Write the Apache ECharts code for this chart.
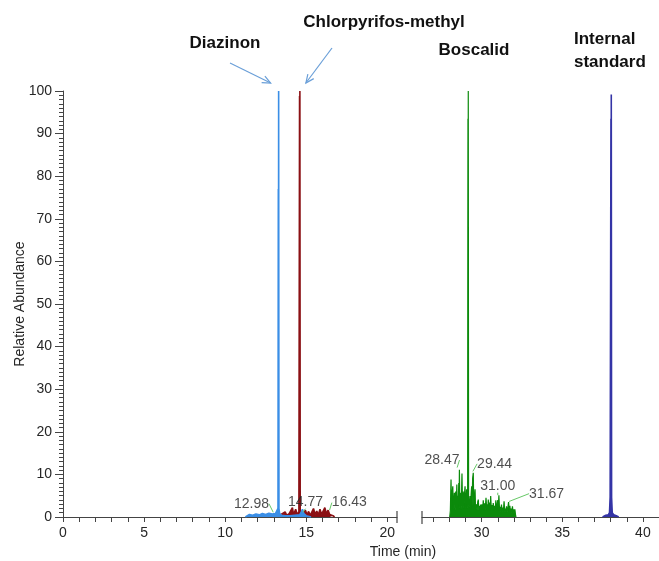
<!DOCTYPE html>
<html><head><meta charset="utf-8">
<script src="https://cdn.jsdelivr.net/npm/echarts@6/dist/echarts.min.js"></script>
<style>html,body{margin:0;padding:0;background:#fff}#c{width:659px;height:561px}</style>
</head><body><div id="c"></div>
<script>
// ---------- data ----------
const yTickLabels = [0,10,20,30,40,50,60,70,80,90,100];
const xLeftLabels = [0,5,10,15,20];
const xLeftTicks = [0,1,2,3,4,5,6,7,8,9,10,11,12,13,14,15,16,17,18,19,20];
const xRightLabels = [30,35,40];
const xRightTicks = [27,28,29,30,31,32,33,34,35,36,37,38,39,40];
const compoundNames = ['Diazinon','Chlorpyrifos-methyl','Boscalid','Internal\nstandard'];
const compoundRT = [13.30, 14.61, 29.17, 38.04];

const diazinon = [[11.25,0],[11.3,0.4],[11.5,0.6],[11.7,0.4],[11.9,0.7],[12.1,0.5],[12.3,0.8],[12.5,0.6],[12.7,0.9],[12.9,0.7],[12.98,1.0],[13.1,0.8],[13.2,1.2],[13.26,2],[13.28,77],[13.29,35],[13.30,100],[13.32,2],[13.36,0.8],[13.5,0.4],[13.7,0.3],[14.0,0.3],[14.3,0.4],[14.6,0.5],[14.7,1.2],[14.77,1.8],[14.85,0.8],[15.0,0.3],[15.3,0]];
const chlorpyrifos = [[12.8,0],[12.9,0.3],[13.0,0.4],[13.1,0.2],[13.2,0.5],[13.35,0.3],[13.5,0.7],[13.6,0.3],[13.7,1.2],[13.8,0.4],[13.95,0.8],[14.05,0.4],[14.15,2.2],[14.22,0.5],[14.35,1.8],[14.45,0.6],[14.55,1.2],[14.59,98.8],[14.60,60],[14.61,100],[14.63,1.2],[14.75,0.6],[14.85,1.1],[14.95,1.6],[15.05,0.5],[15.15,1.3],[15.25,0.4],[15.35,0.8],[15.45,2.0],[15.55,0.6],[15.65,1.4],[15.75,0.5],[15.85,1.8],[15.95,0.6],[16.05,1.0],[16.15,2.2],[16.25,0.7],[16.35,1.6],[16.45,0.6],[16.55,0.9],[16.65,0.3],[16.75,0]];
const boscalid = [[28.02,0],[28.06,1.5],[28.10,8.8],[28.13,2.0],[28.17,5.5],[28.21,7.2],[28.24,1.8],[28.28,4.0],[28.31,5.7],[28.35,1.6],[28.39,6.0],[28.43,2.2],[28.46,7.6],[28.49,2.0],[28.52,5.0],[28.55,3.0],[28.58,8.0],[28.60,2.4],[28.62,11.1],[28.65,2.0],[28.68,4.5],[28.70,5.7],[28.73,1.8],[28.76,6.5],[28.78,10.2],[28.81,2.6],[28.84,4.0],[28.86,6.0],[28.89,2.0],[28.93,5.0],[28.97,7.2],[29.00,2.2],[29.04,4.5],[29.07,6.5],[29.10,2.0],[29.13,3.0],[29.15,93.5],[29.16,40],[29.17,100],[29.19,3.0],[29.23,2.4],[29.28,4.9],[29.31,2.0],[29.35,5.5],[29.38,7.2],[29.41,2.5],[29.44,9.0],[29.48,10.4],[29.51,2.8],[29.55,4.5],[29.59,6.5],[29.62,2.0],[29.66,3.0],[29.69,3.3],[29.72,1.6],[29.76,3.6],[29.79,4.1],[29.83,1.5],[29.87,2.6],[29.91,1.4],[29.94,2.9],[29.98,1.5],[30.02,3.0],[30.06,1.6],[30.10,3.9],[30.14,1.8],[30.18,3.2],[30.22,1.5],[30.27,4.5],[30.31,1.8],[30.35,3.0],[30.38,1.6],[30.41,4.1],[30.45,1.8],[30.49,3.4],[30.52,1.5],[30.56,4.9],[30.60,1.7],[30.64,2.8],[30.68,1.5],[30.72,3.3],[30.76,1.6],[30.80,2.6],[30.84,1.4],[30.88,3.9],[30.92,1.5],[30.96,2.8],[31.00,4.0],[31.03,1.6],[31.07,5.1],[31.11,1.5],[31.15,2.4],[31.19,1.2],[31.23,2.9],[31.27,1.3],[31.31,2.2],[31.35,1.2],[31.39,3.7],[31.43,1.3],[31.47,2.0],[31.50,1.1],[31.54,2.5],[31.58,1.2],[31.62,2.0],[31.67,3.5],[31.71,1.2],[31.75,2.6],[31.79,1.1],[31.83,2.0],[31.87,1.0],[31.91,2.5],[31.95,1.0],[31.99,1.8],[32.03,0.8],[32.06,1.8],[32.10,0.5],[32.13,0]];
const internalStd = [[37.5,0],[37.55,0.3],[37.7,0.4],[37.85,0.5],[37.93,1.0],[37.97,4.7],[38.02,93.5],[38.03,40],[38.04,99.2],[38.06,4.5],[38.1,1.0],[38.2,0.5],[38.35,0.3],[38.5,0]];

const peakLabelRT = [12.98, 14.77, 16.43, 28.47, 29.44, 31.00, 31.67];
const peakLabelHeight = [1.0, 1.0, 1.5, 11.5, 10.6, 5.0, 3.6];

// ---------- layout / style ----------
const labelOffsets = [[-22,-9],[3,-11],[20,-8],[-15,-8],[22,-8],[0,-10],[38,-8]];
const FONT = '"Liberation Sans", Arial, sans-serif';
const TXT = '#262626';
const AX = '#444';

const leftIdx = [], rightIdx = [];
peakLabelRT.forEach((t,i)=> (t < 25 ? leftIdx : rightIdx).push(i));
const labelData = idx => idx.map(i => ({value:[peakLabelRT[i], peakLabelHeight[i]], idx:i}));

function labelSeries(axisIdx, idx) {
  return {
    type:'scatter', xAxisIndex:axisIdx, yAxisIndex:axisIdx, z:10,
    symbol:'circle', symbolSize:1, itemStyle:{color:'rgba(0,0,0,0)'},
    silent:true,
    data: labelData(idx),
    label:{show:true, position:'inside', formatter: p => peakLabelRT[p.data.idx].toFixed(2),
      fontFamily:FONT, fontSize:14, color:'#222'},
    labelLine:{show:true, lineStyle:{color:'#66c866', width:1}},
    labelLayout: p => { const d = labelData(idx)[p.dataIndex]; const o = labelOffsets[d.idx]; return {dx:o[0], dy:o[1]}; }
  };
}

function lineSeries(name, data, axisIdx, color, z, w) {
  return {type:'line', name, data, xAxisIndex:axisIdx, yAxisIndex:axisIdx, symbol:'none', z,
    lineStyle:{color, width:w}, areaStyle:{color, opacity:1}, silent:true};
}

const xAxisCommon = {
  type:'value', splitLine:{show:false},
  axisLine:{show:true, onZero:false, lineStyle:{color:AX, width:1}},
  axisTick:{show:true, length:5, lineStyle:{color:AX}},
  axisLabel:{fontFamily:FONT, fontSize:14, color:TXT, margin:9}
};

const chart = echarts.init(document.getElementById('c'), null, {renderer:'canvas'});
chart.setOption({
  animation:false,
  backgroundColor:'#fff',
  grid:[
    {left:63, top:91, width:334, height:426},
    {left:422, top:91, width:237.5, height:426}
  ],
  xAxis:[
    Object.assign({}, xAxisCommon, {gridIndex:0, min:0, max:20.6,
      axisTick:Object.assign({}, xAxisCommon.axisTick, {customValues:xLeftTicks}),
      axisLabel:Object.assign({}, xAxisCommon.axisLabel, {customValues:xLeftLabels})}),
    Object.assign({}, xAxisCommon, {gridIndex:1, min:26.3, max:41,
      axisTick:Object.assign({}, xAxisCommon.axisTick, {customValues:xRightTicks}),
      axisLabel:Object.assign({}, xAxisCommon.axisLabel, {customValues:xRightLabels})})
  ],
  yAxis:[
    {type:'value', gridIndex:0, min:0, max:100, interval:10, splitLine:{show:false},
      axisLine:{show:true, lineStyle:{color:AX, width:1}},
      axisTick:{show:true, length:8, lineStyle:{color:AX}},
      minorTick:{show:true, splitNumber:10, length:4, lineStyle:{color:AX}},
      axisLabel:{fontFamily:FONT, fontSize:14, color:TXT, margin:11,
        customValues: yTickLabels}},
    {type:'value', gridIndex:1, min:0, max:100, show:false}
  ],
  series:[
    lineSeries('Chlorpyrifos-methyl', chlorpyrifos, 0, '#8b1014', 2, 1.6),
    lineSeries('Diazinon', diazinon, 0, '#3a8ee6', 3, 1.6),
    lineSeries('Boscalid', boscalid, 1, '#0b8a0b', 2, 1.2),
    lineSeries('Internal standard', internalStd, 1, '#3434a6', 2, 1.6),
    labelSeries(0, leftIdx),
    labelSeries(1, rightIdx)
  ]
});

// ---------- annotations ----------
const px = (axis, pt) => chart.convertToPixel({xAxisIndex:axis, yAxisIndex:axis}, pt);
function arrow(x1,y1,x2,y2,color){
  const a = Math.atan2(y2-y1, x2-x1), L = 9, w = 0.42;
  return [
    {type:'line', shape:{x1,y1,x2,y2}, style:{stroke:color, lineWidth:1.2}},
    {type:'polyline', shape:{points:[[x2-L*Math.cos(a-w), y2-L*Math.sin(a-w)],[x2,y2],[x2-L*Math.cos(a+w), y2-L*Math.sin(a+w)]]},
      style:{stroke:color, lineWidth:1.2, fill:null}}
  ];
}
const dTop = px(0,[compoundRT[0],100]);
const cTop = px(0,[compoundRT[1],100]);
const brkL = px(0,[20.6,0]);
const brkR = px(1,[26.3,0]);
const bold = (text, x, y, align) => ({type:'text', x, y, style:{text, fontFamily:FONT, fontWeight:'bold', fontSize:17, fill:'#111', align:align||'center', verticalAlign:'middle', lineHeight:23}});

const g = [
  bold(compoundNames[0], 225, 43),
  bold(compoundNames[1], 384, 22),
  bold(compoundNames[2], 474, 50),
  bold(compoundNames[3], 574, 51, 'left'),
  ...arrow(230, 63, dTop[0]-8, dTop[1]-8, '#6a9fd8'),
  ...arrow(332, 48, cTop[0]+6, cTop[1]-8, '#6a9fd8'),
  {type:'line', shape:{x1:brkL[0], y1:brkL[1]-6, x2:brkL[0], y2:brkL[1]+6}, style:{stroke:AX, lineWidth:1.2}},
  {type:'line', shape:{x1:brkR[0], y1:brkR[1]-6, x2:brkR[0], y2:brkR[1]+7}, style:{stroke:AX, lineWidth:1.2}},
  {type:'text', x:20, y:304, rotation:Math.PI/2, style:{text:'Relative Abundance', fontFamily:FONT, fontSize:14, fill:TXT, align:'center', verticalAlign:'middle'}},
  {type:'text', x:403, y:552, style:{text:'Time (min)', fontFamily:FONT, fontSize:14, fill:TXT, align:'center', verticalAlign:'middle'}}
];
chart.setOption({graphic:g});
</script>
</body></html>
